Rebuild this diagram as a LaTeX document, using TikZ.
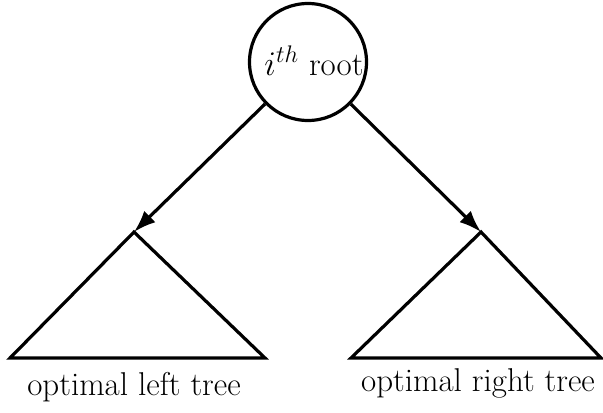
\documentclass[tikz,border=0pt]{standalone}
\usetikzlibrary{arrows.meta}
\begin{document}
\begin{tikzpicture}[x=0.5pt,y=-0.5pt,
  edge/.style={line width=1.6pt,-{Latex[length=11pt,width=8pt]}},
  tri/.style={line width=1.6pt,line join=miter},
  lbl/.style={font=\fontsize{16.5}{19}\selectfont,inner sep=0pt}]
\useasboundingbox (0,0) rectangle (603,412);
\node[circle,draw,line width=1.6pt,minimum size=58.5pt,inner sep=0pt] (root) at (308,62) {};
\node[lbl,anchor=base] (rtxt) at (314,75) {$i^{th}$ root};
\coordinate (L) at (134,232);
\coordinate (R) at (481,232);
\draw[edge] (root) -- (L);
\draw[edge] (root) -- (R);
\draw[tri] (L) -- (10,358) -- (265,358) -- cycle;
\draw[tri] (R) -- (351,358) -- (601,358) -- cycle;
\node[lbl] (lt) at (134,387) {optimal left tree};
\node[lbl] (rt) at (478,383) {optimal right tree};
\end{tikzpicture}
\end{document}
